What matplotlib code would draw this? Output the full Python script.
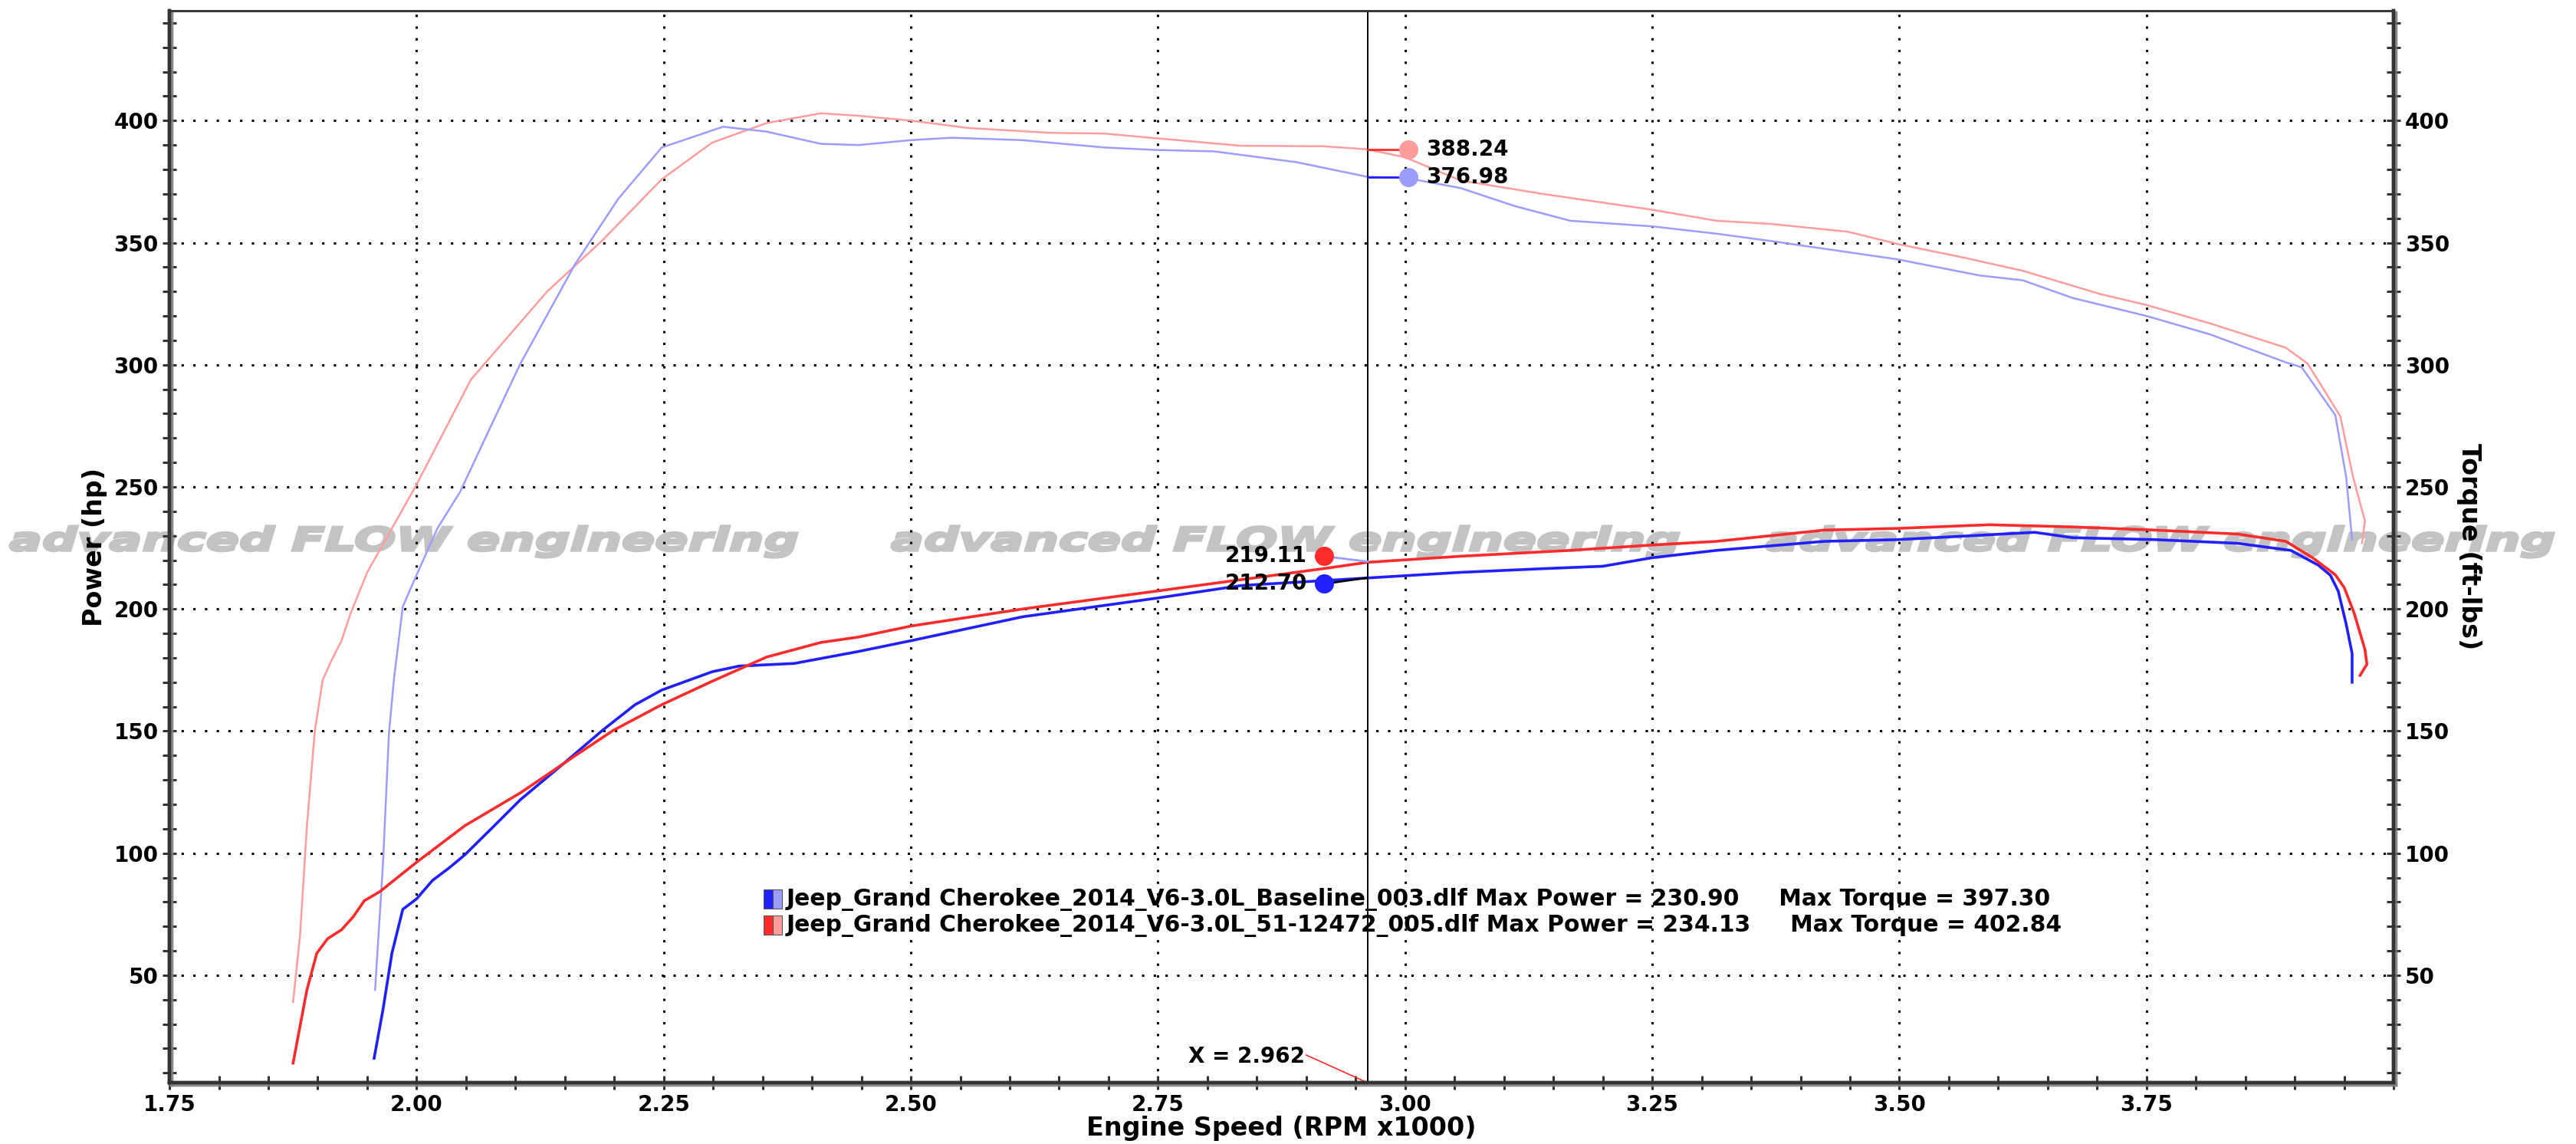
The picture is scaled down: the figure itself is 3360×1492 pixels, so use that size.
import matplotlib
matplotlib.use("Agg")
import matplotlib.pyplot as plt
import matplotlib.patheffects as pe
import matplotlib.transforms as mtransforms
from matplotlib.patches import Rectangle, PathPatch
from matplotlib.textpath import TextPath
from matplotlib.font_manager import FontProperties
from matplotlib.ticker import MultipleLocator, FixedLocator

# ── Data ───────────────────────────────────────────────────────────────────────
# torque, modified (light red)
rpm_tq_mod = [1.875, 1.882, 1.889, 1.897, 1.905, 1.914, 1.924, 1.933, 1.950, 2.000,
              2.055, 2.132, 2.188, 2.248, 2.299, 2.354, 2.409, 2.447, 2.500, 2.558,
              2.641, 2.696, 2.748, 2.834, 2.917, 2.962, 3.000, 3.056, 3.139, 3.250,
              3.315, 3.370, 3.448, 3.498, 3.564, 3.625, 3.703, 3.750, 3.814, 3.891,
              3.913, 3.946, 3.959, 3.971, 3.968]
tq_mod = [39, 66, 111, 150, 171, 179, 187, 198, 215, 251,
          294, 330, 351, 376, 391, 399, 403, 402, 400, 397,
          395, 394.7, 392.8, 389.7, 389.5, 388.24, 385, 375.5, 370, 363.5,
          359, 357.7, 354.5, 349.5, 344, 338.5, 329, 324.5, 317, 307,
          300.5, 279, 254, 236, 227]

# torque, baseline (light blue)
rpm_tq_base = [1.958, 1.966, 1.972, 1.977, 1.986, 2.000, 2.021, 2.044, 2.077, 2.105,
               2.160, 2.204, 2.248, 2.310, 2.354, 2.409, 2.447, 2.500, 2.541, 2.613,
               2.696, 2.748, 2.807, 2.890, 2.962, 3.000, 3.056, 3.111, 3.167, 3.250,
               3.315, 3.370, 3.498, 3.581, 3.625, 3.675, 3.750, 3.814, 3.891, 3.907,
               3.941, 3.952, 3.958]
tq_base = [44, 96, 149, 171, 201, 214, 233, 248, 276.5, 300.5,
           341, 368, 389, 397.5, 395.5, 390.5, 390, 392, 393, 392,
           389, 388, 387.4, 383, 376.98, 376.6, 372.4, 365, 359, 356.7,
           353.7, 350.7, 343.2, 336.6, 334.6, 327.4, 320, 312.5, 301, 299,
           279.4, 254, 228.5]

# power, modified (red)
rpm_hp_mod = [1.875, 1.889, 1.899, 1.910, 1.924, 1.936, 1.947, 1.963, 2.000, 2.049,
              2.105, 2.160, 2.199, 2.248, 2.299, 2.354, 2.409, 2.447, 2.500, 2.613,
              2.748, 2.834, 2.917, 2.962, 3.056, 3.167, 3.250, 3.315, 3.424, 3.498,
              3.591, 3.675, 3.759, 3.842, 3.891, 3.918, 3.941, 3.950, 3.960, 3.971,
              3.973, 3.966]
hp_mod = [14, 44, 59, 65, 68.6, 74, 80.5, 84.3, 96.3, 111.3,
          124.7, 139.8, 150.3, 160.8, 170.4, 180.3, 186.3, 188.5, 193, 200,
          207.3, 212, 216.5, 219.11, 221.6, 224, 226.2, 227.7, 232.3, 233,
          234.5, 233.6, 232.3, 230.7, 227.7, 221, 214, 208.8, 198.4, 183.4,
          177.4, 172.8]

# power, baseline (blue)
rpm_hp_base = [1.957, 1.966, 1.975, 1.986, 2.000, 2.016, 2.033, 2.049, 2.077, 2.105,
               2.149, 2.188, 2.221, 2.248, 2.299, 2.326, 2.382, 2.447, 2.500, 2.613,
               2.748, 2.834, 2.962, 3.056, 3.139, 3.200, 3.250, 3.315, 3.424, 3.498,
               3.637, 3.675, 3.759, 3.842, 3.896, 3.924, 3.936, 3.944, 3.952, 3.958,
               3.958]
hp_base = [16, 36, 59, 77, 81.3, 88.8, 94, 99.4, 110.6, 121.9,
           136.8, 150.3, 160.8, 166.8, 174.3, 176.6, 177.7, 182.6, 187, 196.8,
           204.4, 209.6, 212.7, 215, 216.5, 217.5, 221, 224, 227.7, 228.4,
           231.4, 229.2, 228.4, 226.9, 224, 217.9, 213.8, 207.3, 193.8, 181.8,
           170]

cursor_x = 2.962
cursor_tq = [388.24, 376.98]   # mod, base
cursor_hp = [219.11, 212.70]   # mod, base

legend_lines = [
    "Jeep_Grand Cherokee_2014_V6-3.0L_Baseline_003.dlf Max Power = 230.90     Max Torque = 397.30",
    "Jeep_Grand Cherokee_2014_V6-3.0L_51-12472_005.dlf Max Power = 234.13     Max Torque = 402.84",
]

x_ticks = [1.75, 2.00, 2.25, 2.50, 2.75, 3.00, 3.25, 3.50, 3.75]
y_ticks = [50, 100, 150, 200, 250, 300, 350, 400]

# ── Colours ────────────────────────────────────────────────────────────────────
RED = "#ff2a2a"
BLUE = "#1f1fff"
LRED = "#ff9c9c"
LBLUE = "#9c9cff"
DARK = "#333333"

# ── Figure ─────────────────────────────────────────────────────────────────────
plt.rcParams["font.family"] = ["DejaVu Sans"]
fig = plt.figure(figsize=(16.8, 7.46), dpi=200)
ax = fig.add_axes([0.0658, 0.0536, 0.8634, 0.937])
ax2 = ax.twinx()

ax.set_xlim(1.75, 4.0)
ax.set_ylim(6, 445)
ax2.set_ylim(6, 445)

# grid / ticks
ax.xaxis.set_major_locator(FixedLocator(x_ticks))
ax.xaxis.set_minor_locator(MultipleLocator(0.05))
ax.yaxis.set_major_locator(FixedLocator(y_ticks))
ax.yaxis.set_minor_locator(MultipleLocator(10))
ax2.yaxis.set_major_locator(FixedLocator(y_ticks))
ax2.yaxis.set_minor_locator(MultipleLocator(10))
ax.grid(True, which="major", color="black", linestyle=(0, (1, 4)), linewidth=1.1)

ax.set_xticklabels([f"{t:.2f}" for t in x_ticks])
for a in (ax, ax2):
    a.tick_params(which="both", direction="inout", length=6.5, width=1.1, color=DARK)
    a.tick_params(which="major", labelsize=10, pad=2)
for lab in ax.get_xticklabels() + ax.get_yticklabels() + ax2.get_yticklabels():
    lab.set_fontweight("bold")

# spines
shadow = [pe.SimpleLineShadow(offset=(1.2, -1.2), shadow_color="gray", alpha=0.7), pe.Normal()]
for a in (ax, ax2):
    for side in ("left", "bottom", "right"):
        a.spines[side].set_linewidth(1.6)
        a.spines[side].set_color(DARK)
        a.spines[side].set_path_effects(shadow)
    a.spines["top"].set_linewidth(0.9)
    a.spines["top"].set_color(DARK)

# watermark: wide italic lettering, stretched to the width it has on the sheet
fp = FontProperties(family="DejaVu Sans", weight="bold", style="italic")
wm = TextPath((0, 0), "advanced FLOW engineering", size=42, prop=fp)
ext = wm.get_extents()
sx = 1027 / ext.width
for x0 in (13, 1163, 2304):
    tr = mtransforms.Affine2D().translate(-ext.x0, 0).scale(sx, 1.0).translate(x0, 774)
    ax.add_artist(PathPatch(wm, transform=tr, facecolor="#c3c3c3", edgecolor="#c3c3c3",
                            lw=1.2, zorder=1.2, clip_on=False))

# curves
ax.plot(rpm_tq_mod, tq_mod, color=LRED, lw=0.9, zorder=3)
ax.plot(rpm_tq_base, tq_base, color=LBLUE, lw=0.9, zorder=3)
ax.plot(rpm_hp_base, hp_base, color=BLUE, lw=1.3, zorder=4)
ax.plot(rpm_hp_mod, hp_mod, color=RED, lw=1.3, zorder=4)

# cursor readout
ax.axvline(cursor_x, color="black", lw=0.7, zorder=5)
tq_dot_x = 3.003
hp_dot_x = 2.918
hp_dot_y = [221.6, 210.3]
ax.plot([cursor_x, tq_dot_x], [cursor_tq[0]] * 2, color=RED, lw=1.0, zorder=5)
ax.plot([cursor_x, tq_dot_x], [cursor_tq[1]] * 2, color=BLUE, lw=1.0, zorder=5)
ax.plot([hp_dot_x, cursor_x], [hp_dot_y[0], 219.4], color=LBLUE, lw=1.0, zorder=5)
ax.plot([hp_dot_x, cursor_x], [hp_dot_y[1], 212.8], color="black", lw=1.0, zorder=5)
ax.plot([tq_dot_x], [cursor_tq[0]], "o", color=LRED, ms=8, zorder=6)
ax.plot([tq_dot_x], [cursor_tq[1]], "o", color=LBLUE, ms=8, zorder=6)
ax.plot([hp_dot_x], [hp_dot_y[0]], "o", color=RED, ms=8, zorder=6)
ax.plot([hp_dot_x], [hp_dot_y[1]], "o", color=BLUE, ms=8, zorder=6)
for v in cursor_tq:
    ax.text(tq_dot_x + 0.018, v, f"{v:.2f}", fontsize=10, fontweight="bold",
            ha="left", va="center", zorder=7)
for v, yy in zip(cursor_hp, hp_dot_y):
    ax.text(hp_dot_x - 0.017, yy, f"{v:.2f}", fontsize=10, fontweight="bold",
            ha="right", va="center", zorder=7)

ax.plot([2.90, cursor_x], [17.3, 6], color=RED, lw=0.6, zorder=5)
ax.text(2.84, 16.8, f"X = {cursor_x:.3f}", fontsize=10, fontweight="bold",
        ha="center", va="center", zorder=7)

# legend block
leg_x = 2.351
leg_y = [81.2, 70.5]
leg_cols = [(BLUE, LBLUE), (RED, LRED)]
for y, (c1, c2), txt in zip(leg_y, leg_cols, legend_lines):
    ax.add_patch(Rectangle((leg_x, y - 4), 0.0095, 8, facecolor=c1, edgecolor="#555555",
                           lw=0.4, zorder=6))
    ax.add_patch(Rectangle((leg_x + 0.0095, y - 4), 0.0095, 8, facecolor=c2,
                           edgecolor="#555555", lw=0.4, zorder=6))
    ax.text(leg_x + 0.023, y, txt, fontsize=10.7, fontweight="bold",
            ha="left", va="center", zorder=7)

# axis labels
ax.set_xlabel("Engine Speed (RPM x1000)", fontsize=12, fontweight="bold", labelpad=0)
ax.set_ylabel("Power (hp)", fontsize=12, fontweight="bold", labelpad=3)
ax2.set_ylabel("Torque (ft-lbs)", fontsize=12, fontweight="bold", rotation=270, labelpad=15)

fig.savefig("out.png", dpi=200)
